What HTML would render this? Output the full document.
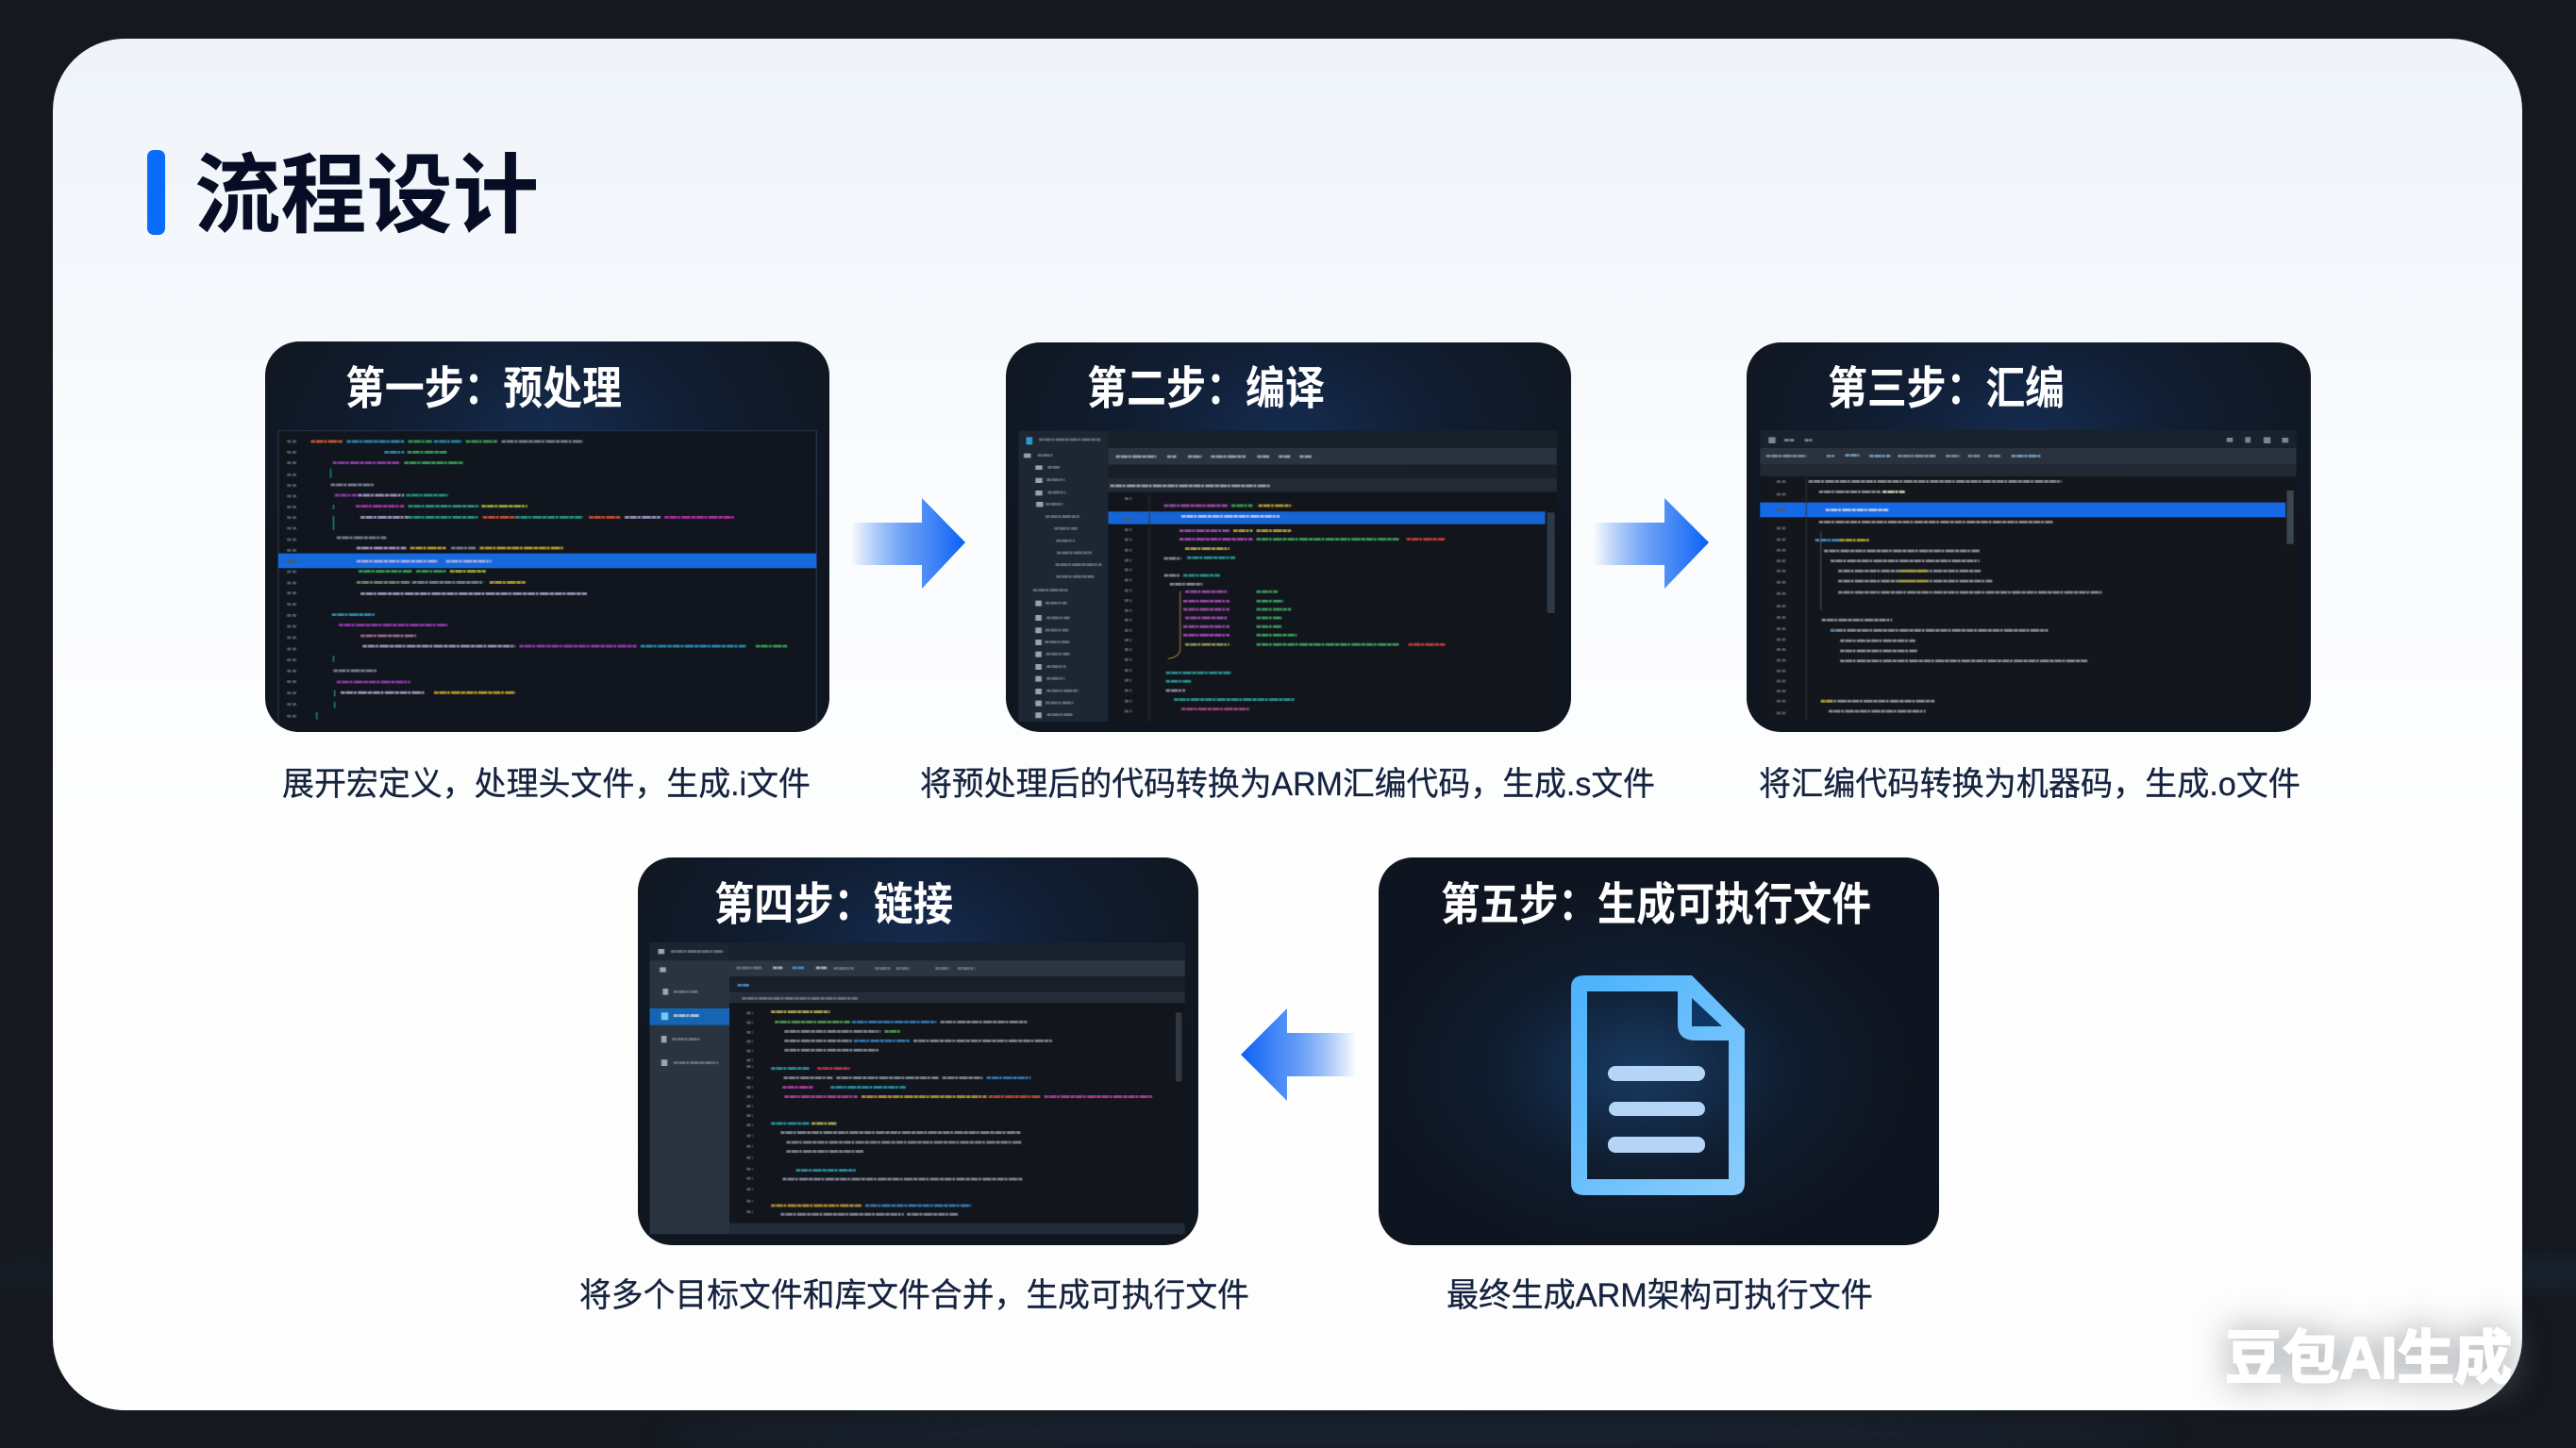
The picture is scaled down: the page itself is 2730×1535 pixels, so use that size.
<!DOCTYPE html>
<html lang="zh"><head><meta charset="utf-8"><title>流程设计</title>
<style>
html,body{margin:0;padding:0;background:#15191f;width:2730px;height:1535px;overflow:hidden}
svg{display:block}
text{font-family:"Liberation Sans","Noto Sans CJK SC",sans-serif}
.t{font-family:"Noto Sans CJK SC",sans-serif;font-weight:700;font-size:48px;fill:#fff}
.c{font-family:"Liberation Sans","Noto Sans CJK SC",sans-serif;font-size:35px;fill:#16233f;stroke:#16233f;stroke-width:.3px}
.code{opacity:.78}
.code path{fill:none;stroke-width:9;stroke-dasharray:11 2 18 2 7 3 23 2}
.num path{fill:none;stroke-width:9;stroke-dasharray:10 4;stroke:#4e5866}
.guide path{fill:none;stroke-width:2.4}
</style></head><body>
<svg width="2730" height="1535" viewBox="0 0 2730 1535" xmlns="http://www.w3.org/2000/svg">
<defs>
<linearGradient id="pg" x1="0" y1="0" x2="0" y2="1"><stop offset="0" stop-color="#eff4fa"/><stop offset=".3" stop-color="#f9fbfd"/><stop offset=".6" stop-color="#fefefe"/><stop offset="1" stop-color="#fdfdfd"/></linearGradient>
<radialGradient id="glow" cx=".5" cy=".24" r=".58"><stop offset="0" stop-color="#152c50"/><stop offset=".5" stop-color="#101c30"/><stop offset="1" stop-color="#10161f"/></radialGradient>
<radialGradient id="glow5" cx=".47" cy=".55" r=".48"><stop offset="0" stop-color="#183a63"/><stop offset=".55" stop-color="#0f1c2e"/><stop offset="1" stop-color="#0f1520"/></radialGradient>
<linearGradient id="ar" x1="0" x2="1"><stop offset="0" stop-color="#0a64f5" stop-opacity="0"/><stop offset=".5" stop-color="#3e84f3" stop-opacity=".8"/><stop offset="1" stop-color="#0a60f6"/></linearGradient>
<linearGradient id="al" x1="1" x2="0"><stop offset="0" stop-color="#0a64f5" stop-opacity="0"/><stop offset=".5" stop-color="#3e84f3" stop-opacity=".8"/><stop offset="1" stop-color="#0a60f6"/></linearGradient>
<linearGradient id="doc" x1="0" y1="0" x2="1" y2="1"><stop offset="0" stop-color="#4ab2fc"/><stop offset="1" stop-color="#8bcdfd"/></linearGradient>
<filter id="b1" x="-5%" y="-5%" width="110%" height="110%"><feGaussianBlur stdDeviation="1"/></filter>
<filter id="b30" x="-30%" y="-100%" width="160%" height="300%"><feGaussianBlur stdDeviation="14"/></filter>
<filter id="b12" x="-20%" y="-60%" width="140%" height="220%"><feGaussianBlur stdDeviation="18"/></filter>
<clipPath id="k1"><rect x="281" y="362" width="598" height="414" rx="36"/></clipPath>
<clipPath id="k2"><rect x="1066" y="363" width="599" height="413" rx="36"/></clipPath>
<clipPath id="k3"><rect x="1851" y="363" width="598" height="413" rx="36"/></clipPath>
<clipPath id="k4"><rect x="676" y="909" width="594" height="411" rx="36"/></clipPath>
</defs>

<!-- dark backdrop streaks -->
<rect width="2730" height="1535" fill="#15191f"/>
<ellipse cx="1500" cy="1520" rx="800" ry="14" fill="#1f3350" opacity=".45" filter="url(#b30)"/>
<ellipse cx="2700" cy="1350" rx="60" ry="8" fill="#2a4a78" opacity=".4" filter="url(#b30)"/>
<ellipse cx="30" cy="1350" rx="50" ry="8" fill="#243a5a" opacity=".25" filter="url(#b30)"/>

<!-- panel -->
<rect x="56" y="41" width="2617" height="1454" rx="76" fill="url(#pg)"/>
<rect x="156" y="159" width="19" height="90" rx="7" fill="#0a6cfb"/>
<text x="206" y="239" textLength="365" lengthAdjust="spacingAndGlyphs" style="font-family:'Noto Sans CJK SC',sans-serif;font-weight:700;font-size:92px;fill:#070d24">流程设计</text>

<!-- CARD 1 -->
<rect x="281" y="362" width="598" height="414" rx="36" fill="url(#glow)"/>
<g clip-path="url(#k1)"><g transform="translate(260 340) scale(.4209 .3333)">
<rect x="83" y="350" width="1355" height="960" fill="#10151e" stroke="#26334a" stroke-width="3"/>
<rect x="83" y="740" width="1355" height="47" fill="#1569da"/>
<g filter="url(#b1)">
<g class="num"><path d="M105 384H128M105 418H128M105 452H128M105 490H128M105 524H128M105 558H128M105 592H128M105 626H128M105 660H128M105 696H128M105 730H128M105 766H128M105 798H128M105 834H128M105 866H128M105 902H128M105 937H128M105 972H128M105 1008H128M105 1044H128M105 1079H128M105 1114H128M105 1148H128M105 1184H128M105 1220H128M105 1258H128"/></g>
<g class="code">
<path stroke="#e8672c" d="M165 384H245"/>
<path stroke="#2f9fc4" d="M255 384H400M350 418H400M475 384H545M218 935H325M995 1035H1260"/>
<path stroke="#3cb35a" d="M410 384H470M555 384H635M408 418H508M400 452H550M285 797H420M430 797H505M1285 1035H1365"/>
<path stroke="#8b8fa6" d="M645 384H850M215 522H325M230 690H355M518 723H580M420 832H600M222 1113H330"/>
<path stroke="#a63fc2" d="M220 452H390M225 555H280M235 968H510M230 1149H415M690 1035H985"/>
<path stroke="#b5a9d2" d="M283 555H400M290 625H410M955 625H1045M280 723H405M290 868H860M295 1035H680M240 1183H450"/>
<path stroke="#2eaa8c" d="M405 555H510M410 590H590M410 625H585M680 625H850"/>
<path stroke="#c636b8" d="M278 590H400M1055 625H1230"/>
<path stroke="#b7c23a" d="M595 590H710M515 797H605"/>
<path stroke="#e05a3a" d="M598 625H680M865 625H945"/>
<path stroke="#d9b12e" d="M415 723H505M590 723H800M615 832H705M475 1183H680"/>
<path stroke="#c8b6ea" d="M280 765H485M505 765H620"/>
<path stroke="#7e9a78" d="M280 832H415"/>
<path stroke="#b07a9e" d="M290 1002H430"/>
</g>
<g class="guide"><path stroke="#2fb5a8" d="M215 470V500M222 585V600M222 620V665M222 1065V1085M180 1245V1268M225 1175V1195M225 1212V1232"/></g>
</g>
</g></g>
<text class="t" x="366" y="428" textLength="293" lengthAdjust="spacingAndGlyphs">第一步<tspan style="font-family:'Noto Sans CJK TC',sans-serif">：</tspan>预处理</text>

<!-- CARD 2 -->
<rect x="1066" y="363" width="599" height="413" rx="36" fill="url(#glow)"/>
<g clip-path="url(#k2)"><g transform="translate(1050 350) scale(.408 .3333)">
<rect x="72" y="320" width="233" height="925" fill="#1d2632"/>
<rect x="305" y="320" width="1165" height="55" fill="#182029"/>
<rect x="305" y="375" width="1165" height="53" fill="#2a3340"/>
<rect x="305" y="428" width="1165" height="44" fill="#191f29"/>
<rect x="305" y="472" width="1165" height="43" fill="#232a35"/>
<rect x="305" y="515" width="1165" height="730" fill="#12161c"/>
<rect x="305" y="577" width="1135" height="40" fill="#1565d4"/>
<rect x="1445" y="580" width="20" height="320" fill="#2b3948"/>
<g filter="url(#b1)">
<g class="num"><path d="M348 536H366M348 600H366M348 635H366M348 666H366M348 700H366M348 732H366M348 762H366M348 795H366M348 828H366M348 860H366M348 892H366M348 922H366M348 955H366M348 986H366M348 1016H366M348 1048H366M348 1082H366M348 1114H366M348 1146H366M348 1180H366M348 1212H366"/></g>
<path d="M92 340h16v24h-16z" fill="#2d9ad0"/>
<path d="M86 392h18v14h-18zM116 430h18v14h-18zM116 470h18v16h-18zM116 510h18v16h-18zM118 546h18v16h-18zM116 860h16v18h-16zM116 906h16v18h-16zM116 946h16v18h-16zM116 984h16v18h-16zM116 1022h16v18h-16zM116 1062h16v18h-16zM116 1100h16v18h-16zM116 1140h16v18h-16zM116 1178h16v18h-16zM116 1216h16v18h-16z" fill="#98a3b1"/>
<g class="code">
<path stroke="#6e7886" d="M125 348H285M122 398H160M148 436H180M145 476H192M148 516H195M143 553H188M142 593H230M165 631H225M170 670H218M172 708H262M168 746H288M170 784H268M110 827H200M142 868H198M145 915H205M142 954H202M140 992H204M144 1030H205M145 1070H195M145 1108H192M145 1147H228M142 1185H214M146 1223H213"/>
<path stroke="#aab3bf" d="M325 402H430M458 402H482M512 402H548M572 402H662M692 402H725M748 402H778M802 402H835M310 495H725"/>
<path stroke="#b04fc0" d="M450 558H615M490 638H620M490 665H680M505 832H615M500 862H620M500 888H620M505 915H615M500 943H620M500 970H620"/>
<path stroke="#3fb060" d="M625 558H680M690 665H1060M690 832H745M690 862H760M690 888H780M690 915H755M690 943H755M690 970H795M690 1000H1060"/>
<path stroke="#c9b23a" d="M695 558H780M630 638H680M690 638H780M505 695H620"/>
<path stroke="#d8ccf2" d="M495 592H750"/>
<path stroke="#d8463e" d="M1080 665H1180M1085 1000H1180"/>
<path stroke="#2ea6a0" d="M510 724H635M500 780H595M455 1090H625M455 1117H520M476 1175H790"/>
<path stroke="#9a9aa8" d="M450 726H495M450 780H490M465 808H550M455 1146H505"/>
<path stroke="#b3468e" d="M495 1205H672"/>
<path stroke="#a7a05c" d="M505 1000H620"/>
</g>
<g class="guide"><path stroke="#a5873a" d="M492 830V1015M492 1015Q490 1040 460 1045"/><path stroke="#2a313b" d="M412 520V1245"/></g>
</g>
</g></g>
<text class="t" x="1152" y="428" textLength="252" lengthAdjust="spacingAndGlyphs">第二步<tspan style="font-family:'Noto Sans CJK TC',sans-serif">：</tspan>编译</text>

<!-- CARD 3 -->
<rect x="1851" y="363" width="598" height="413" rx="36" fill="url(#glow)"/>
<g clip-path="url(#k3)"><g transform="translate(1840 350) scale(.408 .3333)">
<rect x="62" y="318" width="1393" height="57" fill="#19212c"/>
<rect x="62" y="375" width="1393" height="53" fill="#2a323e"/>
<rect x="62" y="428" width="1393" height="37" fill="#222933"/>
<rect x="62" y="465" width="1393" height="775" fill="#13171c"/>
<rect x="62" y="548" width="1365" height="47" fill="#1568e6"/>
<rect x="1430" y="510" width="18" height="170" fill="#3b4653"/>
<g filter="url(#b1)">
<g class="num"><path d="M105 482H128M105 522H128M105 572H128M105 630H128M105 666H128M105 700H128M105 734H128M105 766H128M105 802H128M105 838H128M105 878H128M105 914H128M105 950H128M105 984H128M105 1016H128M105 1050H128M105 1084H128M105 1116H128M105 1148H128M105 1180H128M105 1218H128"/></g>
<path d="M84 340h18v20h-18zM1274 342h16v14h-16zM1322 340h14v18h-14zM1370 340h18v20h-18zM1418 342h16v16h-16z" fill="#7c8796"/>
<g class="code">
<path stroke="#8d97a5" d="M125 350H150M178 350H197M78 400H182M235 400H255M420 400H518M545 400H580M602 400H635M655 400H688"/>
<path stroke="#7ea9cf" d="M283 398H320M346 400H400M715 400H790"/>
<path stroke="#9a9fa4" d="M188 481H845M215 514H375M215 610H822M228 702H632M245 734H632M265 766H635M265 798H665M265 834H950M222 922H405M245 955H810M270 988H465M270 1020H470M270 1052H912M220 1180H515M240 1212H492"/>
<path stroke="#e3e7c6" d="M380 514H438"/>
<path stroke="#cfd9ef" d="M232 572H395"/>
<path stroke="#4f9bd9" d="M205 668H270M245 955H262"/>
<path stroke="#c2b43a" d="M270 668H345M428 766H495M425 798H498M220 1180H250"/>
</g>
<g class="guide"><path stroke="#2a313b" d="M182 465V1240"/><path stroke="#4d5762" d="M220 640V890"/></g>
</g>
</g></g>
<text class="t" x="1937" y="428" textLength="251" lengthAdjust="spacingAndGlyphs">第三步<tspan style="font-family:'Noto Sans CJK TC',sans-serif">：</tspan>汇编</text>

<!-- CARD 4 -->
<rect x="676" y="909" width="594" height="411" rx="36" fill="url(#glow)"/>
<g clip-path="url(#k4)"><g transform="translate(660 900) scale(.408 .3333)">
<rect x="70" y="297" width="207" height="928" fill="#2a3340"/>
<rect x="70" y="297" width="207" height="58" fill="#1b2431"/>
<rect x="70" y="507" width="207" height="53" fill="#1565b5"/>
<rect x="277" y="297" width="1183" height="58" fill="#19212f"/>
<rect x="277" y="355" width="1183" height="50" fill="#2c3542"/>
<rect x="277" y="405" width="1183" height="50" fill="#191f29"/>
<rect x="277" y="455" width="1183" height="35" fill="#262d38"/>
<rect x="277" y="490" width="1183" height="700" fill="#12151b"/>
<rect x="277" y="1190" width="1183" height="35" fill="#232b36"/>
<rect x="1436" y="520" width="16" height="220" fill="#2e3742"/>
<g filter="url(#b1)">
<g class="num"><path d="M322 522H338M322 552H338M322 583H338M322 612H338M322 642H338M322 672H338M322 692H338M322 728H338M322 758H338M322 788H338M322 818H338M322 848H338M322 878H338M322 912H338M322 946H338M322 982H338M322 1018H338M322 1048H338M322 1082H338M322 1120H338M322 1154H338"/></g>
<path d="M92 318h16v16h-16zM96 376h16v16h-16zM104 444h14v20h-14zM100 594h14v22h-14zM100 670h16v20h-16z" fill="#9ca5b2"/>
<path d="M100 520h18v24h-18z" fill="#7cc8f0"/>
<g class="code">
<path stroke="#727c8a" d="M125 326H262M132 454H195M128 605H200M132 680H248M295 378H362M548 380H600M655 380H695M710 380H745M812 380H848M870 380H915M310 475H610"/>
<path stroke="#cbd5e0" d="M132 530H200"/>
<path stroke="#bcc6d1" d="M390 378H415M502 378H530"/>
<path stroke="#4b97d8" d="M440 378H472M298 433H328"/>
<path stroke="#bcbf5a" d="M385 518H538M490 873H555"/>
<path stroke="#5aa65c" d="M395 550H590M680 580H720"/>
<path stroke="#3b86c4" d="M595 550H815M600 610H745M945 728H1060"/>
<path stroke="#8f97a4" d="M825 550H1050M420 580H670M420 610H595M755 610H1115M420 640H665M418 728H545M555 728H820M830 728H935M410 902H1035M425 933H1035M425 962H625M415 1050H1040M410 1162H730M738 1162H870"/>
<path stroke="#2aa5b8" d="M385 698H485M385 873H485M450 1022H605M540 758H735"/>
<path stroke="#d8365f" d="M505 698H590"/>
<path stroke="#c342ad" d="M415 758H495M420 788H610M1095 788H1375"/>
<path stroke="#c8a33a" d="M620 788H945M385 1134H620"/>
<path stroke="#d84f3a" d="M950 788H1085"/>
<path stroke="#3c88c8" d="M630 1134H905"/>
</g>
</g>
</g></g>
<text class="t" x="757" y="975" textLength="253" lengthAdjust="spacingAndGlyphs">第四步<tspan style="font-family:'Noto Sans CJK TC',sans-serif">：</tspan>链接</text>

<!-- CARD 5 -->
<rect x="1461" y="909" width="594" height="411" rx="36" fill="url(#glow5)"/>
<text class="t" x="1527" y="975" textLength="456" lengthAdjust="spacingAndGlyphs">第五步<tspan style="font-family:'Noto Sans CJK TC',sans-serif">：</tspan>生成可执行文件</text>
<path fill-rule="evenodd" fill="url(#doc)" d="M1679 1034H1793L1849 1091V1254Q1849 1267 1836 1267H1679Q1665 1267 1665 1254V1047Q1665 1034 1679 1034ZM1682 1051V1250H1832V1103H1797Q1778 1103 1778 1086V1051Z"/>
<path d="M1793 1058L1825 1088H1793Z" fill="#0f3563"/>
<rect x="1704" y="1130" width="103" height="16" rx="8" fill="#b5d5f6"/>
<rect x="1705" y="1168" width="102" height="15" rx="7.5" fill="#b5d5f6"/>
<rect x="1704" y="1205" width="103" height="17" rx="8" fill="#b5d5f6"/>

<!-- arrows -->
<path fill="url(#ar)" d="M902 554H977V528L1023 575L977 624V599H902Z"/>
<path fill="url(#ar)" d="M1689 554H1764V528L1811 575L1764 624V599H1689Z"/>
<path fill="url(#al)" d="M1437 1095H1364V1069L1315 1118L1364 1167V1141H1437Z"/>

<!-- captions -->
<text class="c" x="299" y="843" textLength="560" lengthAdjust="spacingAndGlyphs">展开宏定义，处理头文件，生成.i文件</text>
<text class="c" x="975" y="843" textLength="779" lengthAdjust="spacingAndGlyphs">将预处理后的代码转换为ARM汇编代码，生成.s文件</text>
<text class="c" x="1864" y="843" textLength="574" lengthAdjust="spacingAndGlyphs">将汇编代码转换为机器码，生成.o文件</text>
<text class="c" x="614" y="1385" textLength="710" lengthAdjust="spacingAndGlyphs">将多个目标文件和库文件合并，生成可执行文件</text>
<text class="c" x="1533" y="1385" textLength="452" lengthAdjust="spacingAndGlyphs">最终生成ARM架构可执行文件</text>

<!-- watermark -->
<text x="2358" y="1461" textLength="304" lengthAdjust="spacingAndGlyphs" filter="url(#b12)" style="font-family:'Liberation Sans','Noto Sans CJK SC',sans-serif;font-weight:700;font-size:62px;fill:#80868c;stroke:#80868c;stroke-width:6px;opacity:.6">豆包AI生成</text>
<text x="2358" y="1461" textLength="304" lengthAdjust="spacingAndGlyphs" style="font-family:'Liberation Sans','Noto Sans CJK SC',sans-serif;font-weight:700;font-size:62px;fill:#fff;stroke:#fff;stroke-width:2px">豆包AI生成</text>
</svg>
</body></html>
